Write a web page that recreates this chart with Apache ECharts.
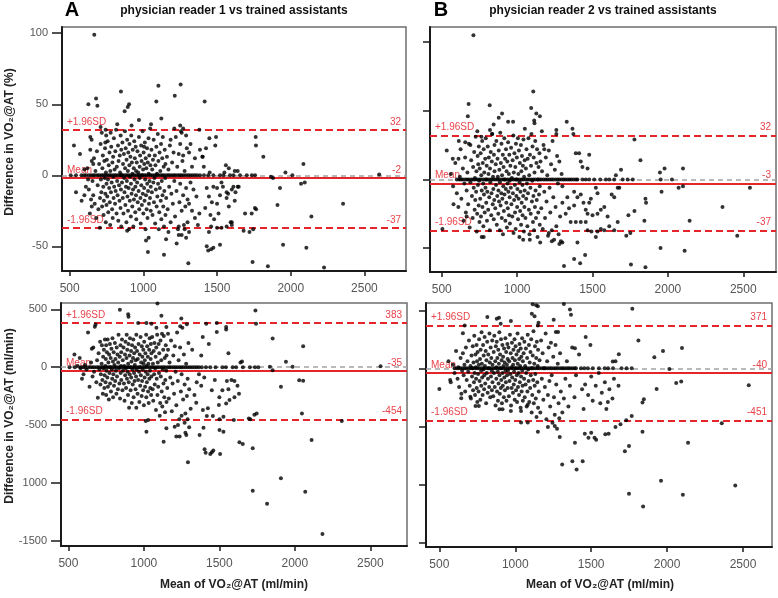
<!DOCTYPE html>
<html><head><meta charset="utf-8">
<script src="https://cdn.jsdelivr.net/npm/echarts@6.0.0/dist/echarts.min.js"></script>
<style>html,body{margin:0;padding:0;background:#fff}#c{width:778px;height:598px}</style>
</head><body><div id="c"></div>
<script>
// ---------- tick labels ----------
const xTicks = [500, 1000, 1500, 2000, 2500];
const pctTicks = [-50, 0, 50, 100];
const mlTicks = [-1500, -1000, -500, 0, 500];

// ---------- limits of agreement [+1.96SD, mean, -1.96SD] ----------
const limitsApct = [32, -2, -37];
const limitsBpct = [32, -3, -37];
const limitsAml = [383, -35, -454];
const limitsBml = [371, -40, -451];

// ---------- means with zero difference (exact agreement) ----------
const zeroMeanA = [507,543,580,598,612,630,645,660,672,688,700,715,728,740,755,768,780,795,808,820,835,848,860,875,888,900,915,928,940,955,968,980,995,1008,1020,1035,1048,1060,1075,1088,1100,1115,1128,1140,1155,1168,1180,1195,1208,1220,1235,1248,1260,1275,1290,1305,1320,1335,1350,1365,1384,1411,1440,1475,1520,1543,1588,1611,1656,1702,1736,1758];
const zeroMeanB = [600,615,628,640,655,668,680,695,708,720,735,748,760,775,788,800,815,828,840,855,868,880,895,908,920,935,948,960,975,988,1000,1015,1028,1040,1055,1068,1080,1095,1108,1120,1135,1148,1160,1175,1188,1200,1215,1228,1240,1255,1268,1280,1295,1308,1320,1335,1348,1360,1375,1390,1400,1433,1455,1478,1511,1551,1589,1611,1644,1700,1733,1767];

// ---------- reader 1, difference in % ----------
const ptsApct = [[667,99],[848,59],[679,54],[627,50],[688,49],[903,50],[894,48],[873,45],[1102,63],[1088,52],[1253,64],[1213,56],[1122,40],[1416,52],[1052,36],[970,39],[823,36],[710,34],[529,21],[570,15],[640,27],[649,25],[744,32],[742,23],[1380,32],[1448,26],[1493,27],[1425,19],[1488,21],[1403,13],[1762,27],[1764,21],[1814,13],[2086,8],[1964,2],[2011,0],[2600,0.5],[1866,-1],[1880,-2],[1927,-9],[1910,-21],[2070,-6],[2095,-5],[2355,-20],[2140,-29],[1948,-49],[2106,-51],[1741,-61],[1845,-64],[2226,-65],[1305,-62],[1140,-56],[1031,-54],[1018,-46],[1036,-44],[1154,-45],[1226,-48],[1430,-50],[1440,-53],[1460,-52],[1475,-51],[1520,-49],[1757,-23],[1765,-24],[1735,-27],[1720,-40],[1745,-38],[1680,-39],[1690,-27],[1592,-33],[1600,-35],
[1384,18],[1400,13],[1410,6],[1450,2],[1550,2],[1560,7],[1580,5],[1620,3],[1640,3],[1565,-12],[1575,-13],[1611,-8],[1640,-8],[1625,-12],[1565,-16],[1647,-8],[1500,-20],[1520,-14],[1475,-8],[1430,-9],[1445,-15],[1465,-19],[1420,-23],[1380,-27],[1455,-28],[1480,-31],[1510,-27],[1500,-37],[1460,-36],[1445,-40],[1530,-37],[1565,-36],[1600,-33],[1320,-5],[1340,-10],[1360,-15],[1310,-20],[1330,-25],[1350,-30],[1300,-33],[1370,-35],[1310,-40],[1280,-38],[1260,-42],[1240,-36],[1290,-44],[1330,6],[1350,12],[1310,16],[1320,22],[1290,28],[1270,33],[1260,30],[1250,22],[1270,14],[1530,-5],[1600,-10],[1580,-22],[1620,-18],[1500,-9],[1540,-8]];
const cloudApct = [[543,-12],[581,-18],[600,-14],[610,-8],[620,5],[630,-10],[637,-27],[645,-17],[650,10],[655,-4],[660,8],[600,4],[625,-3],[640,18],[650,-22],
[660,-14],[665,12],[670,-20],[675,3],[680,-30],[685,17],[690,-7],[695,-24],[700,8],[705,-37],[706,-16],[710,22],[712,-3],[715,-12],[718,30],[720,-22],[722,5],[725,14],[728,-8],[730,-28],[732,-18],[735,10],[738,-2],[740,19],[742,-13],[745,-33],[746,2],[748,28],[750,-6],[750,-21],
[752,11],[755,-15],[758,24],[760,-3],[762,-26],[765,7],[768,-9],[770,16],[772,-19],[775,-35],[776,3],[778,30],[780,-12],[782,20],[785,-5],[788,-24],[790,9],[792,-30],[795,13],[796,-1],[798,-16],[800,26],[802,-8],[805,4],[808,-20],[810,17],[812,-11],[815,32],[818,-27],[820,6],[822,-4],[825,-14],[828,21],[830,-32],[832,10],[835,-7],[838,-18],[840,14],[842,2],[845,-23],[846,28],[848,-10],[850,18],[850,-36],[852,0],
[855,-5],[858,23],[860,-16],[862,8],[865,-27],[868,15],[870,-2],[872,-12],[875,31],[876,5],[878,-21],[880,19],[882,-8],[885,-33],[886,11],[888,-4],[890,25],[892,-15],[895,3],[896,-25],[898,16],[900,-9],[902,-38],[905,7],[906,22],[908,-18],[910,-1],[912,13],[915,-29],[916,-6],[918,28],[920,-13],[922,9],[925,-22],[926,1],[928,18],[930,-10],[932,-36],[935,5],[936,-17],[938,24],[940,-3],[942,12],[945,-26],[946,-8],[948,20],[950,-14],[950,3],[920,35],[890,-39],
[952,-31],[955,9],[958,-5],[960,17],[962,-19],[965,2],[968,-11],[970,27],[972,-24],[975,6],[976,-2],[978,14],[980,-16],[982,-34],[985,21],[986,-7],[988,10],[990,-21],[992,0],[995,31],[996,-13],[998,4],[1000,-27],[1002,16],[1005,-9],[1006,8],[1008,-18],[1010,23],[1012,-3],[1015,-38],[1016,12],[1018,-14],[1020,5],[1022,-24],[1025,19],[1026,-6],[1028,-30],[1030,9],[1032,-11],[1035,26],[1036,1],[1038,-20],[1040,14],[1042,-4],[1045,-16],[1046,33],[1048,7],[1050,-25],[1050,-8],[1005,20],
[1055,18],[1058,-12],[1060,4],[1062,-28],[1065,11],[1068,-5],[1070,25],[1072,-19],[1075,-2],[1078,14],[1080,-34],[1082,7],[1085,-10],[1088,20],[1090,-22],[1092,1],[1095,-15],[1098,29],[1100,-6],[1102,10],[1105,-38],[1108,-26],[1110,16],[1112,-9],[1115,3],[1118,-18],[1120,22],[1122,-31],[1125,-4],[1128,12],[1130,-14],[1132,27],[1135,-22],[1138,6],[1140,-36],[1142,-11],[1145,18],[1148,-2],[1150,-28],[1150,8],
[1155,-16],[1160,13],[1165,-24],[1170,4],[1175,-8],[1180,21],[1185,-33],[1190,-13],[1195,9],[1200,-20],[1205,16],[1210,-4],[1215,-29],[1220,27],[1225,-11],[1230,6],[1235,-38],[1240,15],[1245,-19],[1250,-6],[1255,31],[1260,-25],[1265,10],[1270,-14],[1275,-35],[1280,3],[1285,-22],[1290,-9],[1295,19],[1300,-17],[1185,25],[1210,33],[1240,-42],[1170,-40],[1250,35]];

// ---------- reader 2, difference in % ----------
const ptsBpct = [[710,105],[1107,64],[678,55],[818,54],[673,46],[900,48],[1093,52],[1127,48],[1151,46],[1113,43],[1115,41],[940,42],[973,42],[878,45],[844,40],[1329,42],[1367,37],[1373,33],[1051,37],[1164,35],[1260,33],[736,35],[763,31],[820,36],[833,33],[533,21],[573,15],[611,15],[613,28],[656,27],[690,25],[1778,29],[1818,14],[1978,8],[2100,8],[1947,5],[2027,0],[1952,0],[2544,-6],[2100,-5],[2071,-6],[1958,-9],[2362,-20],[2144,-30],[2460,-41],[1951,-50],[2111,-52],[1851,-14],[1855,-17],[1844,-30],[1778,-23],[1738,-26],[1751,-39],[1724,-41],[1851,-64],[1755,-62],[1311,-63],[1378,-58],[1418,-61],[1451,-55],[1400,-46],[1300,-46],[1153,-46],[1040,-44],[1084,-44],[778,-42],[765,-42],[504,-36],[578,-18],[665,-27],
[1300,-5],[1378,-9],[1400,-13],[1422,-11],[1440,-17],[1455,-22],[1467,-25],[1500,-26],[1533,-25],[1555,-22],[1578,-20],[1600,-27],[1627,-11],[1644,-13],[1667,-6],[1678,-6],[1522,-6],[1533,-10],[1489,-14],[1478,-17],[1455,-31],[1422,-31],[1389,-31],[1355,-31],[1467,-37],[1493,-38],[1522,-42],[1533,-38],[1578,-37],[1611,-34],[1644,-37],[1667,-31],[1555,-36],[1344,-21],[1322,-25],[1378,-19],[1333,-13],[1478,18],[1422,13],[1433,9],[1467,8],[1389,19],[1411,19],[1689,7],[1655,3]];
const cloudBpct = [[560,4],[575,-5],[590,12],[600,-10],[610,-20],[620,2],[625,22],[630,-14],[640,8],[645,-30],[650,-3],[655,16],[660,-24],[665,-8],
[670,5],[675,-18],[680,26],[685,-35],[690,-2],[695,14],[700,-12],[705,-28],[708,9],[712,-6],[715,20],[718,-22],[720,1],[722,-15],[725,31],[728,-9],[730,6],[732,-38],[735,-25],[738,17],[740,-4],[742,11],[745,-19],[746,24],[748,-1],[750,-31],
[752,8],[755,-14],[758,19],[760,-27],[762,3],[765,-8],[768,28],[770,-20],[772,12],[775,-3],[776,-34],[778,22],[780,-11],[782,5],[785,-24],[788,15],[790,-6],[792,30],[795,-17],[796,0],[798,10],[800,-30],[802,-9],[805,24],[808,-22],[810,4],[812,16],[815,-13],[818,-37],[820,8],[822,-2],[825,20],[828,-26],[830,-10],[832,13],[835,33],[838,-18],[840,2],[842,-7],[845,-29],[846,18],[848,-15],[850,6],[850,25],
[855,-21],[858,11],[860,-4],[862,28],[865,-33],[868,-12],[870,15],[872,2],[875,-25],[876,-8],[878,21],[880,-16],[882,7],[885,-37],[886,-2],[888,34],[890,-19],[892,12],[895,-10],[896,26],[898,-28],[900,3],[902,-14],[905,18],[906,-40],[908,-5],[910,9],[912,-23],[915,30],[916,-11],[918,0],[920,15],[922,-30],[925,-7],[926,22],[928,-17],[930,6],[932,-35],[935,13],[936,-3],[938,-21],[940,27],[942,-9],[945,4],[946,-26],[948,18],[950,-13],[950,-1],
[952,-32],[955,10],[958,-6],[960,23],[962,-18],[965,1],[968,-27],[970,14],[972,-10],[975,32],[976,-39],[978,5],[980,-15],[982,19],[985,-4],[986,-24],[988,9],[990,-36],[992,26],[995,-12],[996,0],[998,16],[1000,-20],[1002,-7],[1005,30],[1006,-29],[1008,4],[1010,-14],[1012,21],[1015,-42],[1016,-2],[1018,12],[1020,-23],[1022,-9],[1025,25],[1026,-33],[1028,6],[1030,-17],[1032,17],[1035,-4],[1036,-26],[1038,10],[1040,-12],[1042,29],[1045,-38],[1046,2],[1048,-20],[1050,14],[1050,-8],
[1055,-28],[1058,8],[1060,-14],[1062,22],[1065,-3],[1068,-34],[1070,15],[1072,-10],[1075,30],[1078,-22],[1080,3],[1082,-40],[1085,18],[1088,-6],[1090,-25],[1092,10],[1095,33],[1098,-16],[1100,-1],[1102,24],[1105,-31],[1108,-12],[1110,16],[1112,-37],[1115,5],[1118,-20],[1120,28],[1122,-8],[1125,-28],[1128,12],[1130,-15],[1132,22],[1135,-42],[1138,0],[1140,-24],[1142,9],[1145,-11],[1148,19],[1150,-33],[1150,-5],
[1155,13],[1160,-21],[1165,6],[1170,-36],[1175,25],[1180,-9],[1185,-28],[1190,16],[1195,-16],[1200,3],[1205,-41],[1210,21],[1215,-6],[1220,-24],[1225,11],[1230,-37],[1235,28],[1240,-13],[1245,-44],[1250,7],[1255,-20],[1260,-34],[1265,17],[1270,-3],[1275,-40],[1280,13],[1285,-27],[1290,-45],[1295,4],[1300,-17],[1260,36],[1230,-45],[1210,-39],[1280,-47],[1180,22]];

// ---------- reader 1, difference in ml/min ----------
const ptsAml = [[1090,550],[841,497],[896,457],[898,437],[1116,445],[1248,420],[1241,354],[1285,371],[1017,382],[962,382],[1050,376],[1149,348],[1160,290],[1083,342],[1413,376],[1483,382],[1483,305],[1545,348],[1545,325],[1739,491],[1743,376],[1853,247],[2055,181],[1941,46],[2568,9],[1985,3],[1853,-26],[1835,3],[2029,-112],[2055,-118],[1908,-170],[2111,-629],[2311,-466],[2047,-400],[1747,-400],[1732,-411],[1695,-443],[1705,-450],[1596,-457],[1908,-960],[1721,-1069],[2069,-1078],[1816,-1181],[2183,-1443],[1292,-822],[1402,-710],[1409,-739],[1440,-750],[1450,-735],[1460,-720],[1505,-750],[1633,-650],[1655,-664],[1721,-701],[1131,-644],[1017,-558],[1215,-600],[1012,-466],[1028,-457],[1204,-514],[1226,-500],[1149,-529],[1281,-586],[1275,-566],[1369,-586],[1395,-523],[1237,-600],[1501,-543],[1527,-558],[1417,-422],[1457,-422],[1501,-451],[1527,-428],[1391,-371],[1424,-356],[1347,-307],[1545,-313],[1567,-284],[1497,-327]];
const cloudAml = [[540,110],[560,10],[575,80],[590,-100],[600,-60],[610,20],[620,-20],[630,300],[640,-170],[650,40],[655,160],[660,-80],[665,170],[580,-10],
[670,-40],[675,350],[680,370],[685,-130],[690,60],[695,-265],[700,120],[705,-20],[710,220],[712,-150],[715,-60],[720,30],[722,190],[725,-110],[728,-230],[730,90],[732,-10],[735,150],[738,-180],[740,-70],[742,240],[745,10],[746,-130],[748,70],[750,-240],[750,190],
[752,-30],[755,130],[758,-90],[760,240],[762,-170],[765,40],[768,-280],[770,110],[772,-50],[775,200],[776,-140],[778,0],[780,80],[782,-210],[785,160],[788,-20],[790,-100],[792,250],[795,50],[796,-260],[798,-60],[800,130],[802,-160],[805,20],[808,210],[810,-120],[812,70],[815,-30],[818,-230],[820,170],[822,-80],[825,110],[828,-190],[830,40],[832,280],[835,-10],[838,-140],[840,90],[842,-270],[845,190],[846,-50],[848,10],[850,-110],[850,130],
[855,240],[858,-200],[860,60],[862,-30],[865,170],[868,-140],[870,10],[872,-290],[875,110],[876,-70],[878,220],[880,-10],[882,-180],[885,80],[886,280],[888,-100],[890,150],[892,-40],[895,-240],[896,30],[898,200],[900,-130],[902,-350],[905,100],[906,-60],[908,250],[910,0],[912,-200],[915,140],[916,-90],[918,50],[920,-310],[922,190],[925,-20],[926,-150],[928,80],[930,240],[932,-260],[935,-50],[936,120],[938,-120],[940,20],[942,170],[945,-190],[946,60],[948,-80],[950,-350],[950,280],
[952,-20],[955,140],[958,-230],[960,70],[962,-110],[965,200],[968,-40],[970,-300],[972,110],[975,0],[976,-160],[978,260],[980,-70],[982,40],[985,-250],[986,180],[988,-120],[990,90],[992,-20],[995,-200],[996,150],[998,30],[1000,-330],[1002,220],[1005,-90],[1006,60],[1008,-170],[1010,120],[1012,-40],[1015,280],[1016,-260],[1018,10],[1020,-130],[1022,180],[1025,-60],[1026,90],[1028,-210],[1030,30],[1032,-310],[1035,150],[1036,-100],[1038,250],[1040,-30],[1042,-180],[1045,70],[1046,200],[1048,-240],[1050,-80],[1050,120],
[1055,260],[1058,-190],[1060,30],[1062,-290],[1065,140],[1068,-60],[1070,210],[1072,-150],[1075,-10],[1078,90],[1080,-370],[1082,170],[1085,-100],[1088,280],[1090,-240],[1092,40],[1095,-170],[1098,200],[1100,-50],[1102,120],[1105,-420],[1108,-310],[1110,230],[1112,-80],[1115,60],[1118,-210],[1120,290],[1122,-340],[1125,-20],[1128,150],[1130,-140],[1132,270],[1135,-260],[1138,80],[1140,-390],[1142,-110],[1145,190],[1148,-30],[1150,-300],[1150,100],
[1155,-180],[1160,150],[1165,-270],[1170,40],[1175,-90],[1180,230],[1185,-380],[1190,-140],[1195,100],[1200,-230],[1205,180],[1210,-40],[1215,-330],[1220,300],[1225,-120],[1230,60],[1235,-450],[1240,170],[1245,-210],[1250,-60],[1255,340],[1260,-280],[1265,110],[1270,-150],[1275,-400],[1280,30],[1285,-250],[1290,-100],[1295,210],[1300,-190],[1270,-480],[1290,-450],[1300,-520],[1250,-420],[1310,-360],[1320,150],[1335,-240],[1350,-130],[1365,-60],[1380,-160],[1390,260],[1400,-90],[1380,100],[1430,200],[1450,-200],[1470,-110],[1500,-260],[1520,-200],[1550,-120],[1560,-190],[1580,-110],[1600,-260],[1620,-160],[1630,-230],[1640,40],[1650,50],[1600,-120],[1560,120]];

// ---------- reader 2, difference in ml/min ----------
const ptsBml = [[1771,514],[1320,555],[1115,552],[1138,543],[1149,535],[1109,471],[1127,448],[1360,506],[1367,462],[1253,419],[1153,393],[1149,370],[971,407],[904,384],[816,442],[878,428],[893,436],[667,370],[655,303],[1267,312],[1282,312],[1464,269],[1495,202],[1393,173],[1682,121],[1811,240],[1973,150],[1916,95],[2098,176],[2015,-6],[1642,58],[2060,-127],[2093,-113],[1931,-179],[2538,-145],[1847,-266],[1838,-295],[2360,-474],[2138,-642],[1838,-546],[1767,-410],[1731,-448],[1722,-714],[1749,-670],[1660,-506],[1693,-483],[1593,-569],[1615,-564],[1522,-598],[1533,-616],[1500,-555],[1482,-598],[1458,-564],[1393,-642],[1309,-829],[1376,-800],[1444,-800],[1404,-873],[1293,-592],[1215,-506],[1260,-497],[1149,-546],[1082,-468],[1038,-468],[1960,-968],[1749,-1081],[2104,-1090],[1842,-1191],[2449,-1009],[500,-179],[571,-101],[644,-257],[704,-246],[738,-324],[760,-324],[896,-353],[916,-353],[971,-367],[1038,-367],[1082,-315]];
const cloudBml = [[560,60],[575,-120],[590,30],[600,-40],[610,150],[620,-90],[625,10],[630,-160],[640,90],[645,-220],[650,-20],[655,130],[660,-60],[665,30],
[670,-200],[675,180],[680,-100],[685,60],[690,-30],[695,240],[700,-150],[705,20],[708,-260],[712,110],[715,-70],[718,0],[720,190],[722,-190],[725,50],[728,-120],[730,280],[732,-40],[735,-230],[738,120],[740,10],[742,-90],[745,200],[746,-170],[748,60],[750,-290],
[752,140],[755,-50],[758,-200],[760,30],[762,250],[765,-110],[768,80],[770,-270],[772,160],[775,-20],[776,-150],[778,310],[780,40],[782,-80],[785,-230],[788,200],[790,-10],[792,110],[795,-180],[796,-60],[798,270],[800,20],[802,-130],[805,150],[808,-300],[810,70],[812,-40],[815,230],[818,-210],[820,-90],[822,120],[825,0],[828,-160],[830,300],[832,50],[835,-250],[838,180],[840,-70],[842,90],[845,-20],[846,-190],[848,240],[850,-120],[850,30],
[855,-240],[858,140],[860,-40],[862,280],[865,-160],[868,60],[870,-320],[872,190],[875,-90],[876,10],[878,230],[880,-200],[882,90],[885,-30],[886,-280],[888,160],[890,-130],[892,40],[895,310],[896,-60],[898,-220],[900,120],[902,0],[905,-170],[906,250],[908,-100],[910,70],[912,-300],[915,200],[916,-40],[918,-150],[920,100],[922,20],[925,-250],[926,170],[928,-80],[930,50],[932,-190],[935,260],[936,-20],[938,-120],[940,140],[942,-280],[945,30],[946,-60],[948,210],[950,-170],[950,80],
[952,-20],[955,180],[958,-240],[960,60],[962,-110],[965,290],[968,-50],[970,130],[972,-320],[975,10],[976,-170],[978,220],[980,-80],[982,90],[985,-210],[986,30],[988,160],[990,-140],[992,-30],[995,250],[996,-270],[998,70],[1000,-100],[1002,190],[1005,-190],[1006,0],[1008,120],[1010,-60],[1012,-290],[1015,300],[1016,40],[1018,-160],[1020,150],[1022,-40],[1025,-230],[1026,80],[1028,210],[1030,-120],[1032,20],[1035,-340],[1036,170],[1038,-70],[1040,100],[1042,-200],[1045,260],[1046,-20],[1048,-150],[1050,60],[1050,-280],
[1055,130],[1058,-90],[1060,230],[1062,-250],[1065,20],[1068,-140],[1070,170],[1072,-40],[1075,-330],[1078,90],[1080,-200],[1082,290],[1085,-10],[1088,-110],[1090,200],[1092,-290],[1095,50],[1098,-170],[1100,140],[1102,-60],[1105,250],[1108,-380],[1110,0],[1112,-230],[1115,110],[1118,-100],[1120,320],[1122,-300],[1125,40],[1128,-150],[1130,190],[1132,-50],[1135,-260],[1138,90],[1140,-420],[1142,230],[1145,-120],[1148,20],[1150,-340],[1150,160],
[1155,-200],[1160,70],[1165,-380],[1170,240],[1175,-90],[1180,130],[1185,-270],[1190,0],[1195,-160],[1200,300],[1205,-440],[1210,60],[1215,-230],[1220,180],[1225,-110],[1230,-330],[1235,220],[1240,-60],[1245,-470],[1250,100],[1255,-250],[1260,-400],[1265,200],[1270,-140],[1275,-520],[1280,40],[1285,-300],[1290,-430],[1295,130],[1300,-200],[1310,-380],[1320,-260],[1330,-90],[1340,60],[1350,-330],[1360,-150],[1375,180],[1390,-250],[1400,-60],[1420,120],[1440,-180],[1450,-350],[1460,-140],[1480,-230],[1500,-70],[1510,-280],[1530,-150],[1550,-40],[1570,-210],[1590,-120],[1610,-290],[1620,-180],[1640,-260],[1650,-90],[1660,60],[1680,-150],[1600,-350],[1560,-300]];

// ---------- styling ----------
const FONT = '"Liberation Sans", Arial, sans-serif';
const RED = '#e4262b';
const LBL = '#e8434a';
const AXC = '#1a1a1a';
const TXT = '#555555';

const grids = [
  {left: 62, top: 27, width: 344, height: 244},
  {left: 430, top: 27, width: 346, height: 245},
  {left: 61, top: 303, width: 346, height: 243},
  {left: 426, top: 303, width: 346, height: 244}
];
const xRanges = [[448, 2782], [422, 2717], [451, 2743], [412, 2691]];
const yRanges = [[-67.4, 104.4], [-67.4, 111], [-1546, 555], [-1540, 563]];
const yTickSets = [pctTicks, pctTicks, mlTicks, mlTicks];
const showYLabels = [true, false, true, false];

function refLines(lim) {
  const lab = (txt, pos) => ({show: true, position: pos, formatter: txt, color: LBL, fontSize: 10, fontFamily: FONT, distance: [5, 3]});
  const dash = {color: RED, type: [7, 4], width: 2};
  const solid = {color: RED, type: 'solid', width: 2};
  return {
    silent: true, symbol: 'none', animation: false, z: 1,
    data: [
      {yAxis: 0, lineStyle: {color: '#a3a3a3', type: [5, 4], width: 1.5}, label: {show: false}},
      {yAxis: lim[0], lineStyle: dash, label: lab('+1.96SD', 'insideStartTop')},
      {yAxis: lim[0], lineStyle: dash, label: lab(String(lim[0]), 'insideEndTop')},
      {yAxis: lim[1], lineStyle: solid, label: lab('Mean', 'insideStartTop')},
      {yAxis: lim[1], lineStyle: solid, label: lab(String(lim[1]), 'insideEndTop')},
      {yAxis: lim[2], lineStyle: dash, label: lab('-1.96SD', 'insideStartTop')},
      {yAxis: lim[2], lineStyle: dash, label: lab(String(lim[2]), 'insideEndTop')}
    ]
  };
}

const panelPts = [ptsApct.concat(cloudApct), ptsBpct.concat(cloudBpct), ptsAml.concat(cloudAml), ptsBml.concat(cloudBml)];
const panelZero = [zeroMeanA, zeroMeanB, zeroMeanA, zeroMeanB];
const panelLim = [limitsApct, limitsBpct, limitsAml, limitsBml];

const option = {
  animation: false,
  backgroundColor: '#ffffff',
  textStyle: {fontFamily: FONT},
  grid: grids.map(g => Object.assign({show: true, borderColor: '#6e6e6e', borderWidth: 1.5, backgroundColor: 'transparent', containLabel: false}, g)),
  xAxis: grids.map((g, i) => ({
    type: 'value', gridIndex: i, min: xRanges[i][0], max: xRanges[i][1],
    axisLine: {show: true, onZero: false, lineStyle: {color: AXC, width: 2}},
    axisTick: {show: true, length: 5, customValues: xTicks, lineStyle: {color: AXC, width: 1.5}},
    axisLabel: {show: true, customValues: xTicks, margin: 12, fontSize: 12, color: TXT, fontFamily: FONT,
      formatter: v => String(v)},
    splitLine: {show: false}
  })),
  yAxis: grids.map((g, i) => ({
    type: 'value', gridIndex: i, min: yRanges[i][0], max: yRanges[i][1],
    axisLine: {show: true, onZero: false, lineStyle: {color: AXC, width: 2}},
    axisTick: {show: true, length: i % 2 === 0 ? 10 : 7, customValues: yTickSets[i], lineStyle: {color: AXC, width: 1.5}},
    axisLabel: {show: showYLabels[i], customValues: yTickSets[i], margin: 14, fontSize: 11, color: TXT, fontFamily: FONT,
      formatter: v => (v === -1000 ? '1000' : String(v))},
    splitLine: {show: false}
  })),
  series: grids.map((g, i) => ({
    type: 'scatter', xAxisIndex: i, yAxisIndex: i,
    symbol: 'circle', symbolSize: 4, z: 3,
    itemStyle: {color: '#000000'},
    data: panelPts[i].concat(panelZero[i].map(x => [x, 0])),
    markLine: refLines(panelLim[i])
  })),
  graphic: [
    {type: 'text', x: 72, y: 10, style: {text: 'A', font: 'bold 20px ' + FONT, fill: '#000', textAlign: 'center', textVerticalAlign: 'middle'}},
    {type: 'text', x: 234, y: 11, style: {text: 'physician reader 1 vs trained assistants', font: 'bold 12px ' + FONT, fill: '#111', textAlign: 'center', textVerticalAlign: 'middle'}},
    {type: 'text', x: 441, y: 10, style: {text: 'B', font: 'bold 20px ' + FONT, fill: '#000', textAlign: 'center', textVerticalAlign: 'middle'}},
    {type: 'text', x: 603, y: 11, style: {text: 'physician reader 2 vs trained assistants', font: 'bold 12px ' + FONT, fill: '#111', textAlign: 'center', textVerticalAlign: 'middle'}},
    {type: 'text', x: 10, y: 142, rotation: Math.PI / 2, style: {text: 'Difference in VO₂@AT (%)', font: 'bold 12px ' + FONT, fill: '#222', textAlign: 'center', textVerticalAlign: 'middle'}},
    {type: 'text', x: 10, y: 416, rotation: Math.PI / 2, style: {text: 'Difference in VO₂@AT (ml/min)', font: 'bold 12px ' + FONT, fill: '#222', textAlign: 'center', textVerticalAlign: 'middle'}},
    {type: 'text', x: 234, y: 585, style: {text: 'Mean of VO₂@AT (ml/min)', font: 'bold 12px ' + FONT, fill: '#222', textAlign: 'center', textVerticalAlign: 'middle'}},
    {type: 'text', x: 600, y: 585, style: {text: 'Mean of VO₂@AT (ml/min)', font: 'bold 12px ' + FONT, fill: '#222', textAlign: 'center', textVerticalAlign: 'middle'}}
  ]
};

const chart = echarts.init(document.getElementById('c'), null, {renderer: 'canvas'});
chart.setOption(option);
</script>
</body></html>
